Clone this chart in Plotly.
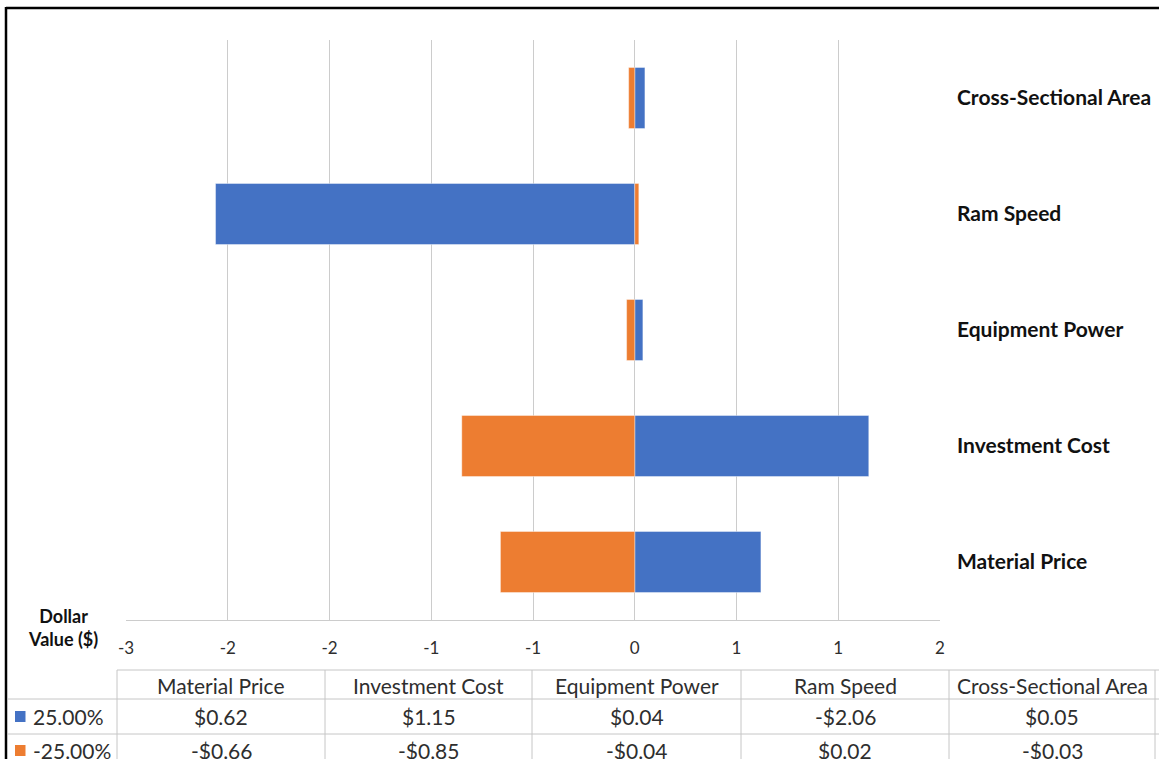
import plotly.graph_objects as go

# ---- data ----
categories = ["Material Price", "Investment Cost", "Equipment Power", "Ram Speed", "Cross-Sectional Area"]
series_names = ["25.00%", "-25.00%"]
plus25 = [0.62, 1.15, 0.04, -2.06, 0.05]
minus25 = [-0.66, -0.85, -0.04, 0.02, -0.03]
x_tickvals = [-2.5, -2.0, -1.5, -1.0, -0.5, 0.0, 0.5, 1.0, 1.5]
x_ticktext = ["-3", "-2", "-2", "-1", "-1", "0", "1", "1", "2"]
colors = ["#4472C4", "#ED7D31"]

W, H = 1159, 759
L, R, T, B = 126, 940, 40, 620  # plot area in px

def px2x(px):
    return (px - L) / (R - L)

def px2y(py):
    return (B - py) / (B - T)

FONT = "Lato"
TXT = "#2e2e2e"

fig = go.Figure()
for name, vals, col in zip(series_names, [plus25, minus25], colors):
    fig.add_trace(go.Bar(
        y=categories, x=vals, name=name, orientation="h",
        marker=dict(color=col, line=dict(color="rgba(255,255,255,0.5)", width=0.8)),
        showlegend=False,
    ))

fig.update_layout(
    width=W, height=H,
    margin=dict(l=L, r=W - R, t=T, b=H - B, autoexpand=False),
    paper_bgcolor="white", plot_bgcolor="white",
    barmode="relative", bargap=0.474,
    font=dict(family=FONT, color=TXT),
    xaxis=dict(
        range=[-2.5, 1.5], tickvals=x_tickvals, ticktext=x_ticktext,
        showgrid=True, gridcolor="#CCCCCC", gridwidth=1.2,
        zeroline=False, showline=True, linecolor="#CCCCCC", linewidth=1,
        ticks="", tickfont=dict(size=17, color=TXT, family=FONT),
        ticklabelstandoff=13, fixedrange=True, automargin=False,
    ),
    yaxis=dict(
        side="right", type="category", categoryorder="array", categoryarray=categories,
        showgrid=False, zeroline=False, showline=False, ticks="",
        tickfont=dict(size=21, color="#111111", family=FONT, weight="bold"),
        ticklabelstandoff=16, fixedrange=True, automargin=False,
    ),
)

shapes = []
# outer black border
shapes.append(dict(type="line", xref="paper", yref="paper", x0=px2x(6), x1=px2x(1165),
                   y0=px2y(8), y1=px2y(8), line=dict(color="black", width=2.5)))
shapes.append(dict(type="line", xref="paper", yref="paper", x0=px2x(6), x1=px2x(6),
                   y0=px2y(7), y1=px2y(770), line=dict(color="black", width=2.5)))

# data table
col_edges = [117, 325, 532, 741, 949, 1155]
row_edges = [670, 699, 734]
grid = dict(color="#C6C6C6", width=1)
shapes.append(dict(type="line", xref="paper", yref="paper", x0=px2x(117), x1=px2x(1165),
                   y0=px2y(670), y1=px2y(670), line=grid))
for ry in row_edges[1:]:
    shapes.append(dict(type="line", xref="paper", yref="paper", x0=px2x(8), x1=px2x(1165),
                       y0=px2y(ry), y1=px2y(ry), line=grid))
for cx in col_edges:
    shapes.append(dict(type="line", xref="paper", yref="paper", x0=px2x(cx), x1=px2x(cx),
                       y0=px2y(670), y1=px2y(770), line=grid))
# legend keys
key_rows = [716.5, 750.5]
for ky, col in zip(key_rows, colors):
    shapes.append(dict(type="rect", xref="paper", yref="paper", x0=px2x(15), x1=px2x(25.5),
                       y0=px2y(ky - 5.5), y1=px2y(ky + 5.5), fillcolor=col, line=dict(width=0)))
fig.update_layout(shapes=shapes)

ann = []
centers = [(col_edges[i] + col_edges[i + 1]) / 2 for i in range(len(categories))]
for cx, cat in zip(centers, categories):
    ann.append(dict(x=px2x(cx), y=px2y(685), xref="paper", yref="paper", text=cat,
                    showarrow=False, xanchor="center", yanchor="middle",
                    font=dict(size=21, color=TXT, family=FONT)))

def fmt(v):
    return ("-$" if v < 0 else "$") + f"{abs(v):.2f}"

for ky, name, vals in zip(key_rows, series_names, [plus25, minus25]):
    ann.append(dict(x=px2x(31), y=px2y(ky), xref="paper", yref="paper", text=name,
                    showarrow=False, xanchor="left", yanchor="middle",
                    font=dict(size=21, color=TXT, family=FONT)))
    for cx, v in zip(centers, vals):
        ann.append(dict(x=px2x(cx), y=px2y(ky), xref="paper", yref="paper", text=fmt(v),
                        showarrow=False, xanchor="center", yanchor="middle",
                        font=dict(size=21, color=TXT, family=FONT)))

ann.append(dict(x=px2x(63), y=px2y(627.5), xref="paper", yref="paper",
                text="Dollar<br>Value ($)", showarrow=False, xanchor="center", yanchor="middle",
                align="center", font=dict(size=18, color="#111111", family=FONT, weight="bold")))
fig.update_layout(annotations=ann)

fig.write_html("out.html")
